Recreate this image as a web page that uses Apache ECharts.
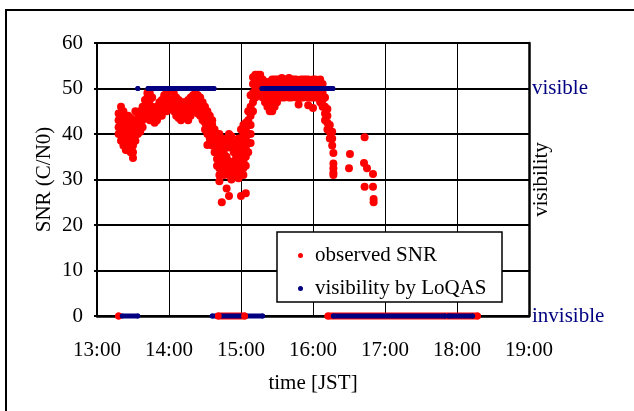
<!DOCTYPE html>
<html>
<head>
<meta charset="utf-8">
<script src="https://cdn.jsdelivr.net/npm/echarts@6/dist/echarts.min.js"></script>
<style>
  html, body { margin: 0; padding: 0; background: #fff; }
  #chart { width: 634px; height: 411px; }
</style>
</head>
<body>
<div id="chart"></div>
<script>
// time axis: minutes after 13:00 JST
const timeLabels = ['13:00', '14:00', '15:00', '16:00', '17:00', '18:00', '19:00']
const visLabels = { 0: 'invisible', 50: 'visible' }

// observed SNR as [minute, values in that column]
const snrPass1 = [
  [18, [40, 41.5, 43, 44.5]],
  [20, [38.5, 40, 41.5, 43, 44.5, 46]],
  [22, [37.5, 39, 40.5, 42, 43.5, 45]],
  [24, [36.5, 38, 39.5, 41, 42.5, 44]],
  [26, [36.5, 38, 39.5, 41, 42.5, 44]],
  [28, [36, 37.5, 39, 40.5, 42, 43.5]],
  [30, [34.7, 36, 37.5, 39, 41, 43]],
  [32, [38.5, 40, 41.5, 43, 45]],
  [34, [40, 41.5, 43, 44.5]],
  [36, [40.5, 42, 43.5, 45]],
  [38, [41.5, 43, 44.5, 46]]
]
const snrPass2 = [
  [40, [44, 45.5, 47.5]],
  [42, [45, 46.5, 48, 49]],
  [44, [43, 44.5, 46, 47.5, 49]],
  [46, [43, 44.5, 46, 48]],
  [48, [42.5, 44, 45.5]],
  [50, [43, 44.5, 46]],
  [52, [44, 45.5, 47]],
  [54, [44, 46, 47.5]],
  [56, [45, 46.5, 48.5]],
  [58, [45, 46.5, 48, 49.5]],
  [60, [46, 47.5, 49.5]],
  [62, [46, 47.5, 49.5]],
  [64, [45, 46.5, 48, 49]],
  [66, [44, 45.5, 47, 48]],
  [68, [43.5, 45, 46.5, 47.5]],
  [70, [43, 44.5, 46, 47]],
  [72, [43.5, 45, 47]],
  [74, [44, 45.5, 47]],
  [76, [43, 44.5, 46, 47.5]],
  [78, [44, 45.5, 47, 48]],
  [80, [45, 46.5, 48.5]],
  [82, [45, 46.5, 48, 49]],
  [84, [44.5, 46, 47.5, 48.5]],
  [86, [44, 45.5, 47, 48]],
  [88, [43, 44.5, 46, 47]],
  [90, [41, 42.5, 44, 46]],
  [92, [37.6, 40, 41.5, 43, 45]],
  [94, [38, 39, 40.5, 42, 44]],
  [96, [37.5, 39, 40.5, 42, 43]],
  [98, [36, 37.5, 39, 41]],
  [100, [33, 34.5, 36, 37.5, 39, 40]],
  [102, [29.6, 31, 32.5, 34, 35.5, 37, 38.5, 40]],
  [104, [25, 32, 33.5, 35, 36.5, 38, 39]],
  [106, [31, 32.5, 34, 35.5, 37, 38.5]],
  [108, [28, 32, 33.5, 35, 37, 39]],
  [110, [26.4, 31, 32.5, 34, 38, 40]],
  [112, [30, 31.5, 33, 37, 39.5]],
  [114, [31, 32.5, 34, 36, 38]],
  [116, [30.5, 32, 33.5, 35, 37.5]],
  [118, [30.3, 31, 32.5, 34, 36, 37.5, 39]],
  [120, [26.4, 32, 33.5, 35, 37, 38.5, 41]],
  [122, [31, 32.5, 34, 36, 38, 40, 42]],
  [124, [27, 33, 35, 37, 39, 41, 42.5]],
  [126, [36, 38, 40, 42, 43, 45]],
  [128, [38, 40, 42, 44, 46, 48.5]]
]
const snrPass3 = [
  [130, [45, 47, 49, 51, 52.5]],
  [132, [48, 50, 51.5, 53]],
  [134, [49, 50.5, 52, 53]],
  [136, [49, 50.5, 52, 53]],
  [138, [48, 49.5, 51, 52]],
  [140, [47, 48.5, 50, 51.5]],
  [142, [46, 47.5, 49, 51]],
  [144, [45, 46.5, 48, 49.5, 51.5]],
  [146, [45, 46.5, 48, 50, 52]],
  [148, [46, 47.5, 49, 50.5, 52]],
  [150, [47, 48.5, 50, 52]],
  [152, [48, 49.5, 51, 52]],
  [154, [48, 49.5, 51, 52.3]],
  [156, [48, 49.5, 51, 52]],
  [158, [48.5, 50, 51.5, 52]],
  [160, [48, 49.5, 51, 52.3]],
  [162, [48, 49.5, 51, 52]],
  [164, [48.5, 50, 51.5, 52]],
  [166, [48, 49.5, 51, 52]],
  [168, [46.5, 48, 49.5, 51.5]],
  [170, [48, 49.5, 51, 52]],
  [172, [48, 49.5, 51, 52]],
  [174, [48.5, 50, 51.5, 52]],
  [176, [46.3, 48, 50, 52]],
  [178, [48, 49.5, 51.5]],
  [180, [45.7, 48, 49.5, 51, 52]],
  [182, [48, 49.5, 51, 52]],
  [184, [48, 49.5, 51]],
  [186, [47, 48.5, 50, 52]],
  [188, [46, 47.5, 49, 51]],
  [190, [43, 44.5, 46, 48]],
  [192, [41, 42.5, 44, 45.5]],
  [194, [39, 40.5, 42]],
  [196, [37.5, 39, 40.5]],
  [197, [31, 31.5, 32.5, 33.5, 35.8]]
]
const snrStray = [
  [210, 32.5], [210.8, 35.6], [222.5, 33.6], [223, 39.3], [223, 28.4],
  [225, 32.5], [230, 31.2], [230, 28.4], [230.5, 25.7], [230.5, 25]
]

// SNR logged as 0 while out of sight: [from, to] in minutes
const snrZeroSpans = [[18, 18], [101, 123], [192.5, 317]]
// LoQAS prediction: visible (50) and invisible (0) spans
const visibleSpans = [[34, 34], [42.5, 97.5], [137.5, 196.5]]
const invisibleSpans = [[21, 34], [96, 138], [197, 290], [293, 313]]

const RED = '#ff0000'
const NAVY = '#000080'
const FONT = 'Liberation Serif'
const FS = 21

const snrPoints = []
;[snrPass1, snrPass2, snrPass3].forEach(pass => {
  pass.forEach(([t, vals]) => vals.forEach(v => snrPoints.push([t, v])))
})
snrStray.forEach(p => snrPoints.push(p))

function spanSeries(name, spans, level, color, width) {
  return spans.map(([a, b]) => ({
    name,
    type: 'line',
    data: [[a, level], [b, level]],
    symbol: 'circle',
    symbolSize: width,
    showSymbol: true,
    clip: false,
    silent: true,
    itemStyle: { color },
    lineStyle: { color, width, cap: 'round' },
    z: 3
  }))
}

const chart = echarts.init(document.getElementById('chart'))

const option = {
  animation: false,
  backgroundColor: '#fff',
  textStyle: { fontFamily: FONT },
  grid: { left: 97, right: 105, top: 43, bottom: 95 },
  graphic: [
    {
      type: 'rect',
      shape: { x: 6, y: 10, width: 700, height: 500 },
      style: { fill: 'none', stroke: '#000', lineWidth: 2 },
      silent: true
    },
    {
      type: 'rect',
      z: 3,
      shape: { x: 277, y: 232, width: 225, height: 70 },
      style: { fill: '#fff', stroke: '#000', lineWidth: 1.5 },
      silent: true
    }
  ],
  legend: {
    orient: 'vertical',
    left: 293,
    top: 240,
    z: 5,
    itemWidth: 5,
    itemHeight: 8,
    itemGap: 12,
    selectedMode: false,
    textStyle: { fontFamily: FONT, fontSize: FS, color: '#000', padding: [0, 0, 0, 7] },
    data: [
      { name: 'observed SNR', icon: 'circle', itemStyle: { color: RED } },
      { name: 'visibility by LoQAS', icon: 'circle', itemStyle: { color: NAVY } }
    ]
  },
  xAxis: {
    type: 'value',
    min: 0,
    max: 360,
    interval: 60,
    name: 'time [JST]',
    nameLocation: 'middle',
    nameGap: 57,
    nameMoveOverlap: false,
    nameTextStyle: { fontFamily: FONT, fontSize: FS, color: '#000' },
    axisLine: { lineStyle: { color: '#000', width: 2.5 } },
    axisTick: { show: false },
    splitLine: { show: true, lineStyle: { color: '#000', width: 1 } },
    axisLabel: {
      fontFamily: FONT, fontSize: FS, color: '#000', margin: 24,
      formatter: v => timeLabels[Math.round(v / 60)]
    }
  },
  yAxis: [
    {
      type: 'value',
      min: 0,
      max: 60,
      interval: 10,
      name: 'SNR (C/N0)',
      nameLocation: 'middle',
      nameGap: 42,
      nameMoveOverlap: false,
      nameTextStyle: { fontFamily: FONT, fontSize: FS, color: '#000' },
      axisLine: { show: true, lineStyle: { color: '#000', width: 2 } },
      axisTick: { show: true, length: 3, lineStyle: { color: '#000', width: 2 } },
      splitLine: { show: true, lineStyle: { color: '#000', width: 2 } },
      axisLabel: { fontFamily: FONT, fontSize: FS, color: '#000', margin: 14 }
    },
    {
      type: 'value',
      position: 'right',
      min: 0,
      max: 60,
      interval: 10,
      name: 'visibility',
      nameLocation: 'middle',
      nameGap: 2,
      nameMoveOverlap: false,
      nameTextStyle: { fontFamily: FONT, fontSize: FS, color: '#000' },
      axisLine: { show: true, lineStyle: { color: '#000', width: 2.5 } },
      axisTick: { show: false },
      splitLine: { show: false },
      axisLabel: {
        fontFamily: FONT, fontSize: FS, color: NAVY, margin: 3,
        formatter: v => visLabels[v] || ''
      }
    }
  ],
  series: [
    {
      name: 'observed SNR',
      type: 'scatter',
      data: snrPoints,
      symbolSize: 8,
      silent: true,
      itemStyle: { color: RED, opacity: 1 },
      z: 2
    },
    ...spanSeries('observed SNR', snrZeroSpans, 0, RED, 7),
    ...spanSeries('visibility by LoQAS', visibleSpans, 50, NAVY, 5),
    ...spanSeries('visibility by LoQAS', invisibleSpans, 0, NAVY, 5)
  ]
}

chart.setOption(option)
</script>
</body>
</html>
